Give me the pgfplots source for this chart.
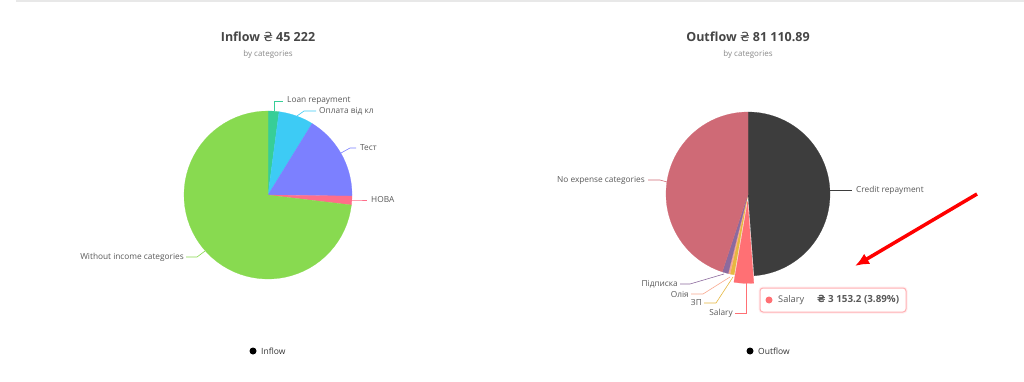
\documentclass[border=0pt]{standalone}
\usepackage{pgfplots}
\pgfplotsset{compat=1.18}
\usetikzlibrary{arrows.meta}
\usepackage{fontspec}
\setmainfont{Open Sans}
\newfontfamily\hryv{DejaVu Sans}
\definecolor{cLoan}{HTML}{37CE97}
\definecolor{cOpl}{HTML}{3DCBF5}
\definecolor{cTest}{HTML}{7C80FF}
\definecolor{cNova}{HTML}{FF6E8A}
\definecolor{cWith}{HTML}{88DA50}
\definecolor{cCred}{HTML}{3D3D3D}
\definecolor{cNoExp}{HTML}{CF6A76}
\definecolor{cSal}{HTML}{FF7074}
\definecolor{cZP}{HTML}{E6B840}
\definecolor{cOliya}{HTML}{F9A98F}
\definecolor{cPidp}{HTML}{8C6A9E}
\definecolor{cTxt}{HTML}{595959}
\definecolor{cTitle}{HTML}{464646}
\definecolor{cSub}{HTML}{8A8A8A}
% a pie slice: colour, start angle, end angle (degrees clockwise from the top), centre x, centre y
\newcommand\slice[5]{\addplot[fill=#1,draw=#1,line width=0.2pt,domain=#2:#3,samples=60,variable=\t] ({#4+sin(\t)},{#5+cos(\t)}) -- (axis cs:#4,#5) -- cycle;}
\newcommand\lab{\fontsize{8.3}{9}\selectfont\color{cTxt}}
\begin{document}
\begin{tikzpicture}
\begin{scope}[x=1pt,y=-1pt]
\path[use as bounding box] (0,0) rectangle (1024,382);
\fill[white] (0,0) rectangle (1024,382);
\draw[line width=2pt, color=black!9] (16,1.5) -- (1024,1.5);
\end{scope}

% ---------- Inflow pie (shares in %: 2.1, 6.7, 16.4, 1.7, 73.1)
\begin{axis}[at={(268pt,-195pt)}, anchor=center, scale only axis, width=168pt, height=168pt,
  xmin=-1,xmax=1,ymin=-1,ymax=1, hide axis, clip=false]
\slice{cLoan}{0}{7.56}{0}{0}
\slice{cOpl}{7.56}{31.68}{0}{0}
\slice{cTest}{31.68}{90.72}{0}{0}
\slice{cNova}{90.72}{96.84}{0}{0}
\slice{cWith}{96.84}{360}{0}{0}
\end{axis}

% ---------- Outflow pie (shares in %: 48.8, 3.89, 0.8, 0.4, 1.2, 44.91)
\begin{axis}[at={(748pt,-194pt)}, anchor=center, scale only axis, width=164pt, height=164pt,
  xmin=-1,xmax=1,ymin=-1,ymax=1, hide axis, clip=false]
\slice{cCred}{0}{175.7}{0}{0}
\slice{cZP}{189.7}{192.6}{0}{0}
\slice{cOliya}{192.6}{194.0}{0}{0}
\slice{cPidp}{194.0}{198.3}{0}{0}
\slice{cNoExp}{198.3}{360}{0}{0}
\slice{cSal}{175.7}{189.7}{-0.004}{-0.09}
\end{axis}

\begin{scope}[x=1pt,y=-1pt]
% ---------- titles
\node[text=cTitle, font=\fontsize{12.5}{14}\selectfont\bfseries] at (268,37) {Inflow {\hryv\mdseries ₴} 45 222};
\node[text=cSub, font=\fontsize{8}{9}\selectfont] at (268,54) {by categories};
\node[text=cTitle, font=\fontsize{12.5}{14}\selectfont\bfseries] at (748,37) {Outflow {\hryv\mdseries ₴} 81 110.89};
\node[text=cSub, font=\fontsize{8}{9}\selectfont] at (748,54) {by categories};

% ---------- inflow labels
\draw[cLoan, line width=0.6pt] (274,111) -- (274,101) -- (283,101);
\node[anchor=west, inner sep=0pt] at (287,101) {\lab Loan repayment};
\draw[cOpl, line width=0.6pt] (297,116) -- (304,111) -- (316,111);
\node[anchor=west, inner sep=0pt] at (319,111) {\lab Оплата від кл};
\draw[cTest, line width=0.6pt] (341,153) -- (350,148) -- (356,148);
\node[anchor=west, inner sep=0pt] at (360,148) {\lab Тест};
\draw[cNova, line width=0.6pt] (351,200) -- (358,200) -- (367,200);
\node[anchor=west, inner sep=0pt] at (371,200) {\lab НОВА};
\draw[cWith, line width=0.6pt] (205,251) -- (197,257) -- (186,257);
\node[anchor=east, inner sep=0pt] at (184,257) {\lab Without income categories};

% ---------- outflow labels
\draw[cCred, line width=0.6pt] (830,190) -- (852,190);
\node[anchor=west, inner sep=0pt] at (856,190) {\lab Credit repayment};
\draw[cNoExp, line width=0.6pt] (667,182) -- (660,180) -- (648,180);
\node[anchor=east, inner sep=0pt] at (645,180) {\lab No expense categories};
\draw[cPidp, line width=0.6pt] (724,274) -- (690,284) -- (680,284);
\node[anchor=east, inner sep=0pt] at (678,284) {\lab Підписка};
\draw[cOliya, line width=0.6pt] (730,277) -- (703,294) -- (691,294);
\node[anchor=east, inner sep=0pt] at (689,294) {\lab Олія};
\draw[cZP, line width=0.6pt] (733,277) -- (716,303) -- (704,303);
\node[anchor=east, inner sep=0pt] at (702,303) {\lab ЗП};
\draw[cSal, line width=0.6pt] (746,283) -- (746,313) -- (735,313);
\node[anchor=east, inner sep=0pt] at (733,313) {\lab Salary};

% ---------- tooltip
\draw[rounded corners=3pt, line width=3pt, color=cSal, opacity=0.12] (760,288) rectangle (906,312);
\draw[rounded corners=3pt, line width=1pt, color=cSal!55, fill=white] (760,288) rectangle (906,312);
\fill[cSal] (769,300) circle (3.5);
\node[anchor=west, inner sep=0pt, text=cTxt, font=\fontsize{9.2}{10}\selectfont] at (778,300) {Salary};
\node[anchor=west, inner sep=0pt, text=cTxt, font=\fontsize{9.8}{11}\selectfont\bfseries] at (817,300) {{\hryv\bfseries ₴} 3 153.2 (3.89\%)};

% ---------- red arrow
\draw[red, line width=3.5pt, -{Latex[length=14pt,width=12pt]}] (977,194) -- (855,266);

% ---------- legends
\fill[black] (253,351) circle (3.5);
\node[anchor=west, inner sep=0pt, font=\fontsize{8.5}{9}\selectfont, text=black!80] at (261,351) {Inflow};
\fill[black] (750,351) circle (3.5);
\node[anchor=west, inner sep=0pt, font=\fontsize{8.5}{9}\selectfont, text=black!80] at (758,351) {Outflow};
\end{scope}
\end{tikzpicture}
\end{document}
